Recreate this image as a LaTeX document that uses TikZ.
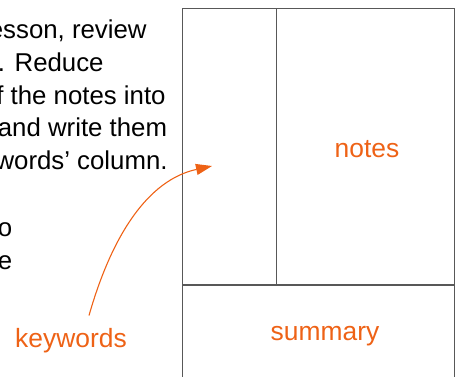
\documentclass[tikz,border=0pt]{standalone}
\usepackage{fontspec}
\setmainfont{Liberation Sans}
\usetikzlibrary{arrows.meta}
\definecolor{accent}{RGB}{238,98,22}
\definecolor{rulegray}{RGB}{88,88,88}

\begin{document}
\begin{tikzpicture}[x=0.5pt, y=-0.5pt,
    txtline/.style = {anchor=base east, inner sep=0pt, font=\fontsize{12.9}{16}\selectfont},
    tag/.style = {anchor=base, inner sep=2pt, text=accent, font=\fontsize{13.2}{16}\selectfont},
    boxline/.style = {draw=rulegray, line width=0.7pt},
    pointer/.style = {draw=accent, line width=0.55pt, -{Triangle[length=8pt,width=5.5pt]}}]
	\useasboundingbox (0,0) rectangle (460,376);
	\clip (0,0) rectangle (460,376);
	% text on the left, cut by the page edge
	\node[txtline] (t1) at (147,38.5) {esson, review};
	\node[txtline] (t2) at (104,71.5) {. Reduce};
	\node[txtline] (t3) at (166,104) {f the notes into};
	\node[txtline] (t4) at (167.5,136.5) {and write them};
	\node[txtline] (t5) at (168,169) {words’ column.};
	\node[txtline] (t6) at (12.7,236) {o};
	\node[txtline] (t7) at (12.7,269) {e};
	% the page
	\draw[boxline] (182.7,8.7) rectangle (454.5,400);
	\draw[boxline] (276.7,8.7) -- (276.7,285);
	\draw[boxline] (182.7,285) -- (454.5,285);
	\node[tag] (notes) at (367,157) {notes};
	\node[tag] (summary) at (325,340) {summary};
	\node[tag] (kw) at (71,347) {keywords};
	\coordinate (kwcol) at (212,166);
	\draw[pointer] ([xshift=9pt,yshift=4pt]kw.north) .. controls (112,235) and (148,180) .. (kwcol);
\end{tikzpicture}
\end{document}
